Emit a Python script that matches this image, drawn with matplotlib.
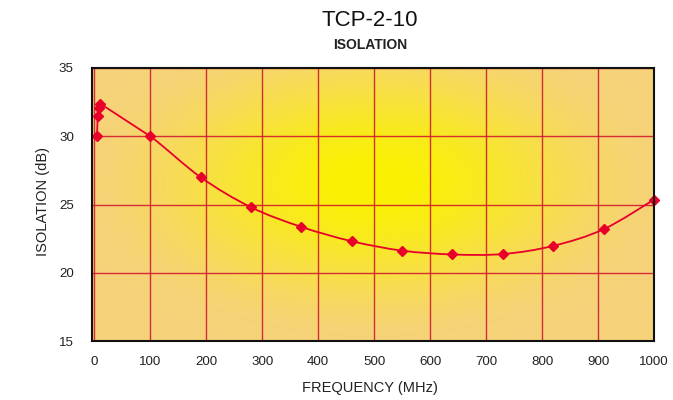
import numpy as np
import matplotlib
matplotlib.use("Agg")
import matplotlib.pyplot as plt
from matplotlib.path import Path
from matplotlib.patches import PathPatch

plt.rcParams['font.family'] = ['Liberation Sans', 'DejaVu Sans']

# Data
freq_mhz = [5, 6, 9, 11, 100, 190, 280, 370, 460, 550, 640, 730, 820, 910, 1000]
isolation_db = [30.02, 31.45, 32.05, 32.38, 30.0, 27.0, 24.8, 23.36, 22.31, 21.62,
                21.34, 21.37, 21.97, 23.19, 25.36]
x_ticks = [0, 100, 200, 300, 400, 500, 600, 700, 800, 900, 1000]
y_ticks = [15, 20, 25, 30, 35]
title = "TCP-2-10"
subtitle = "ISOLATION"
x_label = "FREQUENCY (MHz)"
y_label = "ISOLATION (dB)"

fig = plt.figure(figsize=(6.73, 4.0), dpi=100)
W, H = 673, 400
left, right, top, bottom = 92, 654, 68, 341
ax = fig.add_axes([left / W, 1 - bottom / H, (right - left) / W, (bottom - top) / H])

xmin, xmax = -4, 1000
ymin, ymax = 15, 35
ax.set_xlim(xmin, xmax)
ax.set_ylim(ymin, ymax)

# radial gradient background
nx, ny = 300, 160
gx, gy = np.meshgrid(np.linspace(0, 1, nx), np.linspace(0, 1, ny))
r = np.sqrt(((gx - 0.5) / 0.55) ** 2 + ((gy - 0.58) / 0.62) ** 2)
t = np.clip(r, 0, 1)
t = t * t * (3 - 2 * t)
center = np.array([250, 242, 0]) / 255.0
edge = np.array([246, 210, 122]) / 255.0
img = center[None, None, :] + (edge - center)[None, None, :] * t[..., None]
ax.imshow(img, extent=[xmin, xmax, ymin, ymax], origin='lower', aspect='auto',
          zorder=0, interpolation='bilinear')

ax.set_xticks(x_ticks)
ax.set_yticks(y_ticks)
ax.grid(True, color='#d0102c', linewidth=1.0, alpha=0.85, zorder=1)
ax.tick_params(length=0, labelsize=9.6, colors='#222222')
ax.tick_params(axis='x', pad=11)
ax.tick_params(axis='y', pad=13)
for s in ax.spines.values():
    s.set_linewidth(1.5)
    s.set_color('#111111')
    s.set_zorder(5)

# smooth curve (Catmull-Rom -> cubic Bezier) through the data points
xs = np.array(freq_mhz, dtype=float)
ys = np.array(isolation_db, dtype=float)
verts = [(xs[0], ys[0])]
codes = [Path.MOVETO]
n = len(xs)
for i in range(n - 1):
    p0 = np.array([xs[max(i - 1, 0)], ys[max(i - 1, 0)]])
    p1 = np.array([xs[i], ys[i]])
    p2 = np.array([xs[i + 1], ys[i + 1]])
    p3 = np.array([xs[min(i + 2, n - 1)], ys[min(i + 2, n - 1)]])
    if i < 4:
        c1, c2 = p1, p2
    else:
        c1 = p1 + (p2 - p0) / 6.0
        c2 = p2 - (p3 - p1) / 6.0
    verts += [tuple(c1), tuple(c2), tuple(p2)]
    codes += [Path.CURVE4, Path.CURVE4, Path.CURVE4]
patch = PathPatch(Path(verts, codes), facecolor='none', edgecolor='#e8002a',
                  linewidth=1.3, zorder=3)
ax.add_patch(patch)
ax.plot(freq_mhz, isolation_db, linestyle='none', marker='D', markersize=4.6,
        color='#e8002a', zorder=4, clip_on=False)

fig.text(370 / W, 1 - 388 / H, x_label, ha='center', va='center', fontsize=10.5,
         color='#222222')
fig.text(43 / W, 1 - 202 / H, y_label, ha='center', va='center', rotation=90,
         fontsize=10.5, color='#222222')

fig.text(370 / W, 1 - 21 / H, title, ha='center', va='center', fontsize=16, color='#111111')
fig.text(370 / W, 1 - 45 / H, subtitle, ha='center', va='center', fontsize=10,
         fontweight='bold', color='#222222')

fig.savefig("out.png", dpi=100)
